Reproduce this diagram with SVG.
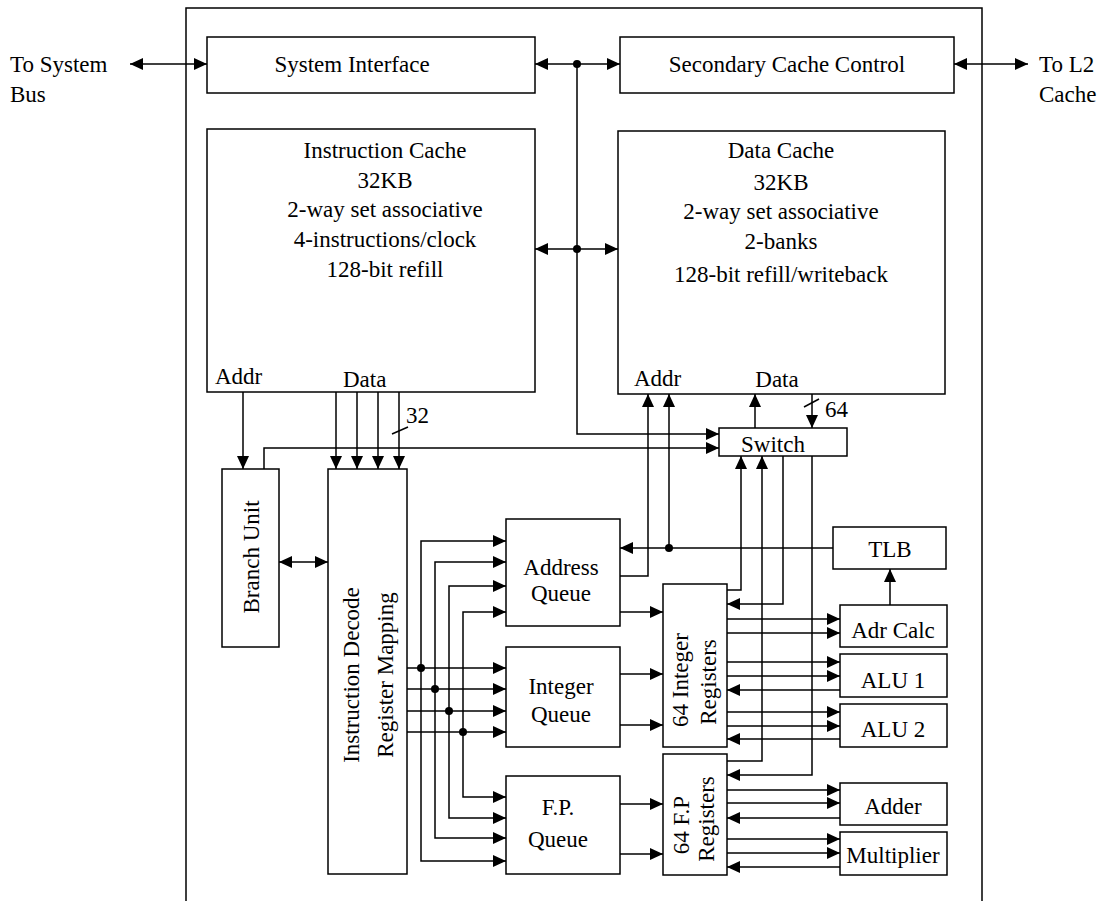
<svg xmlns="http://www.w3.org/2000/svg" width="1103" height="901" viewBox="0 0 1103 901">
<style>
.b{fill:#fff;stroke:#000;stroke-width:1.5}
.l{fill:none;stroke:#000;stroke-width:1.5}
.a{fill:none;stroke:#000;stroke-width:1.5;marker-end:url(#ah)}
.aa{fill:none;stroke:#000;stroke-width:1.5;marker-end:url(#ah);marker-start:url(#ah)}
text{font-family:"Liberation Serif","Times New Roman",serif;font-size:23px;fill:#000}
.m{text-anchor:middle}
</style>
<defs>
<marker id="ah" viewBox="0 0 13 12" refX="13" refY="6" markerWidth="13" markerHeight="12" markerUnits="userSpaceOnUse" orient="auto-start-reverse"><path d="M0,0 L13,6 L0,12 z" fill="#000"/></marker>
</defs>
<rect width="1103" height="901" fill="#fff"/>
<path class="l" d="M186,901 V8 H982 V901"/>
<text x="10" y="72">To System</text>
<text x="10" y="102">Bus</text>
<text x="1039" y="72">To L2</text>
<text x="1039" y="102">Cache</text>
<g id="sysif"><rect class="b" x="207" y="37" width="328" height="56"/><text class="m" x="352" y="72">System Interface</text></g>
<g id="scc"><rect class="b" x="620" y="37" width="334" height="56"/><text class="m" x="787" y="72">Secondary Cache Control</text></g>
<g id="icache"><rect class="b" x="207" y="129" width="328" height="263"/>
<text class="m" x="385" y="158">Instruction Cache</text>
<text class="m" x="385" y="188">32KB</text>
<text class="m" x="385" y="217">2-way set associative</text>
<text class="m" x="385" y="247">4-instructions/clock</text>
<text class="m" x="385" y="277">128-bit refill</text>
<text x="215" y="384">Addr</text>
<text x="343" y="387">Data</text></g>
<g id="dcache"><rect class="b" x="618" y="131" width="327" height="263"/>
<text class="m" x="781" y="158">Data Cache</text>
<text class="m" x="781" y="190">32KB</text>
<text class="m" x="781" y="219">2-way set associative</text>
<text class="m" x="781" y="249">2-banks</text>
<text class="m" x="781" y="282">128-bit refill/writeback</text>
<text x="634" y="386">Addr</text>
<text class="m" x="777" y="387">Data</text></g>
<g id="switch"><rect class="b" x="719" y="428" width="128" height="28"/><text class="m" x="773" y="452">Switch</text></g>
<g id="branch"><rect class="b" x="222" y="469" width="57" height="178"/><text class="m" transform="translate(259,557) rotate(-90)">Branch Unit</text></g>
<g id="decode"><rect class="b" x="328" y="469" width="79" height="405"/><text class="m" transform="translate(359,675) rotate(-90)">Instruction Decode</text><text class="m" transform="translate(393,675) rotate(-90)">Register Mapping</text></g>
<g id="aq"><rect class="b" x="506" y="519" width="114" height="107"/><text class="m" x="561" y="575">Address</text><text class="m" x="561" y="601">Queue</text></g>
<g id="iq"><rect class="b" x="506" y="647" width="114" height="100"/><text class="m" x="561" y="694">Integer</text><text class="m" x="561" y="722">Queue</text></g>
<g id="fq"><rect class="b" x="506" y="776" width="114" height="98"/><text class="m" x="558" y="815">F.P.</text><text class="m" x="558" y="847">Queue</text></g>
<g id="ireg"><rect class="b" x="663" y="584" width="64" height="163"/><text class="m" transform="translate(688,680) rotate(-90)">64 Integer</text><text class="m" transform="translate(716,682) rotate(-90)">Registers</text></g>
<g id="freg"><rect class="b" x="663" y="754" width="64" height="121"/><text class="m" transform="translate(689,825) rotate(-90)">64 F.P</text><text class="m" transform="translate(714,819) rotate(-90)">Registers</text></g>
<g id="tlb"><rect class="b" x="833" y="527" width="113" height="42"/><text class="m" x="890" y="557">TLB</text></g>
<g id="adrcalc"><rect class="b" x="840" y="605" width="107" height="42"/><text class="m" x="893" y="638">Adr Calc</text></g>
<g id="alu1"><rect class="b" x="840" y="654" width="107" height="43"/><text class="m" x="893" y="688">ALU 1</text></g>
<g id="alu2"><rect class="b" x="840" y="704" width="107" height="43"/><text class="m" x="893" y="737">ALU 2</text></g>
<g id="adder"><rect class="b" x="840" y="783" width="107" height="42"/><text class="m" x="893" y="814">Adder</text></g>
<g id="mult"><rect class="b" x="840" y="832" width="107" height="43"/><text class="m" x="893" y="863">Multiplier</text></g>
<g id="connectors">
<path class="aa" d="M130,64 H207"/>
<path class="aa" d="M954,64 H1028"/>
<path class="aa" d="M535,64 H620"/>
<path class="aa" d="M535,249 H618"/>
<path class="a" d="M577,64 V434 H719"/>
<path class="a" d="M243,392 V469"/>
<path class="a" d="M336,392 V469"/>
<path class="a" d="M357,392 V469"/>
<path class="a" d="M378,392 V469"/>
<path class="a" d="M399,392 V469"/>
<path class="l" d="M392,434 L408,427"/>
<text x="406" y="423">32</text>
<path class="a" d="M264,469 V448 H719"/>
<path class="aa" d="M279,562 H328"/>
<path class="a" d="M407,668 H506"/>
<path class="a" d="M407,689 H506"/>
<path class="a" d="M407,711 H506"/>
<path class="a" d="M407,732 H506"/>
<path class="aa" d="M506,541 H421 V861 H506"/>
<path class="aa" d="M506,562 H435 V838 H506"/>
<path class="aa" d="M506,586 H449 V818 H506"/>
<path class="aa" d="M506,612 H463 V797 H506"/>
<path class="a" d="M620,612 H663"/>
<path class="a" d="M620,674 H663"/>
<path class="a" d="M620,725 H663"/>
<path class="a" d="M620,804 H663"/>
<path class="a" d="M620,854 H663"/>
<path class="a" d="M620,576 H648 V394"/>
<path class="a" d="M833,548 H620"/>
<path class="a" d="M669,548 V394"/>
<path class="a" d="M890,605 V569"/>
<path class="a" d="M755,428 V394"/>
<path class="a" d="M812,394 V428"/>
<path class="l" d="M804,407 L819,399"/>
<text x="825" y="417">64</text>
<path class="a" d="M727,590 H741 V456"/>
<path class="a" d="M727,761 H762 V456"/>
<path class="a" d="M783,456 V604 H727"/>
<path class="a" d="M812,456 V775 H727"/>
<path class="a" d="M727,619 H840"/>
<path class="a" d="M727,633 H840"/>
<path class="a" d="M727,662 H840"/>
<path class="a" d="M727,676 H840"/>
<path class="a" d="M840,690 H727"/>
<path class="a" d="M727,712 H840"/>
<path class="a" d="M727,726 H840"/>
<path class="a" d="M840,739 H727"/>
<path class="a" d="M727,790 H840"/>
<path class="a" d="M727,803 H840"/>
<path class="a" d="M840,818 H727"/>
<path class="a" d="M727,839 H840"/>
<path class="a" d="M727,853 H840"/>
<path class="a" d="M840,867 H727"/>
<g fill="#000">
<circle cx="577" cy="64" r="4"/>
<circle cx="577" cy="249" r="4"/>
<circle cx="669" cy="548" r="4"/>
<circle cx="421" cy="668" r="4"/>
<circle cx="435" cy="689" r="4"/>
<circle cx="449" cy="711" r="4"/>
<circle cx="463" cy="732" r="4"/>
</g>
</g>
</svg>
